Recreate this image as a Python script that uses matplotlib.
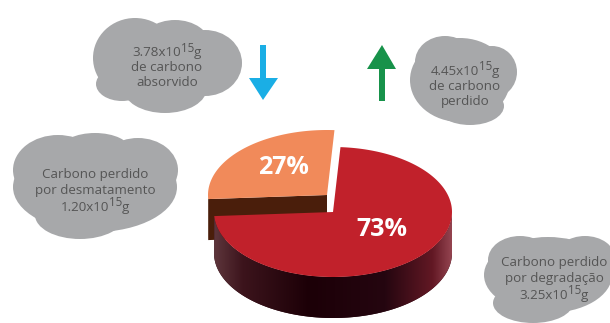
import numpy as np
import matplotlib
matplotlib.use("Agg")
import matplotlib.pyplot as plt
from matplotlib.patches import Polygon, Ellipse
from matplotlib.colors import LinearSegmentedColormap

plt.rcParams['font.family'] = ['Open Sans', 'DejaVu Sans']

# ---------------- data ----------------
shares = [27, 73]                      # percent
share_labels = ["27%", "73%"]
# each line: (base text, superscript, tail)
cloud_absorvido = [("3.78x10", "15", "g"), ("de carbono", "", ""), ("absorvido", "", "")]
cloud_perdido = [("4.45x10", "15", "g"), ("de carbono", "", ""), ("perdido", "", "")]
cloud_desmat = [("Carbono perdido", "", ""), ("por desmatamento", "", ""), ("1.20x10", "15", "g")]
cloud_degrad = [("Carbono perdido", "", ""), ("por degradação", "", ""), ("3.25x10", "15", "g")]

# ---------------- figure ----------------
W, H = 610, 323
fig = plt.figure(figsize=(W / 100, H / 100), dpi=100)
ax = fig.add_axes([0, 0, 1, 1])
ax.set_xlim(0, W)
ax.set_ylim(H, 0)
ax.axis('off')
renderer = fig.canvas.get_renderer()

CLOUD = '#a7a8aa'
TXT = '#555555'
FS, FS_SUP = 9.6, 8.4


def cloud(ells):
    for (cx, cy, rx, ry) in ells:
        ax.add_patch(Ellipse((cx, cy), 2 * rx, 2 * ry, color=CLOUD, lw=0, zorder=1))


def width_of(s, fs):
    if not s:
        return 0.0
    t = ax.text(0, 0, s, fontsize=fs)
    w = t.get_window_extent(renderer).width
    t.remove()
    return w


def cloud_text(x, ys, lines):
    for y, (base, sup, tail) in zip(ys, lines):
        wb, ws, wt = width_of(base, FS), width_of(sup, FS_SUP), width_of(tail, FS)
        x0 = x - (wb + ws + wt) / 2
        ax.text(x0, y, base, ha='left', va='baseline', fontsize=FS, color=TXT, zorder=5)
        if sup:
            ax.text(x0 + wb, y - 4.5, sup, ha='left', va='baseline', fontsize=FS_SUP, color=TXT, zorder=5)
            ax.text(x0 + wb + ws, y, tail, ha='left', va='baseline', fontsize=FS, color=TXT, zorder=5)


# cloud 1 (top-left)
cloud([(135, 58, 42, 40), (205, 63, 37, 33), (165, 88, 42, 25), (122, 84, 26, 17), (175, 45, 35, 25)])
cloud_text(167, [56, 71, 85.5], cloud_absorvido)
# cloud 2 (top-right)
cloud([(460, 80, 50, 42), (445, 62, 30, 26), (492, 72, 25, 26), (470, 106, 34, 19)])
cloud_text(465, [75, 90, 104.5], cloud_perdido)
# cloud 3 (left)
cloud([(95, 187, 82, 45), (58, 170, 45, 35), (138, 170, 40, 32), (80, 215, 45, 24), (95, 150, 35, 17)])
cloud_text(95, [178, 194, 211], cloud_desmat)
# cloud 4 (bottom-right)
cloud([(548, 275, 64, 38), (520, 260, 32, 24), (585, 258, 30, 22), (533, 303, 40, 20)])
cloud_text(554, [266, 282, 299], cloud_degrad)

# ---------------- arrows ----------------
ax.add_patch(Polygon([(260, 45), (266, 45), (266, 78), (278, 78), (263, 100), (249, 78), (260, 78)],
                     closed=True, color='#1aaee5', lw=0, zorder=3))
ax.add_patch(Polygon([(379, 101), (385, 101), (385, 69), (396, 69), (382, 45), (367, 69), (379, 69)],
                     closed=True, color='#17924a', lw=0, zorder=3))

# ---------------- 3D pie ----------------
A, B, D = 119, 65, 41
centers = [(327, 195), (333, 212)]
top_cols = ['#f18a5a', '#c1212b']
side_cols = ['#4a1e0b', None]
face_col = '#4a1e0b'
red_side_cmap = LinearSegmentedColormap.from_list(
    'redside', [(0.0, '#5e363c'), (0.12, '#3c141c'), (0.4, '#1c0007'), (0.72, '#250610'),
                (0.92, '#621824'), (1.0, '#944450')])


def pt(c, th, dz=0):
    return (c[0] + A * np.cos(np.radians(th)), c[1] - B * np.sin(np.radians(th)) + dz)


fr = np.array(shares, float) / sum(shares)
start = 90.0 - (360 * fr[0] - 90) / 2
angles = []
for f in fr:
    angles.append((start, start + 360 * f))
    start += 360 * f

label_pos = [(0.52, 0.59), (0.58, 0.39)]

for i, (a0, a1) in enumerate(angles):
    c = centers[i]
    z = 2 * i + 10
    lo, hi = max(a0, 180), min(a1, 360)
    if hi > lo:
        th = np.linspace(lo, hi, 120)
        top = [pt(c, t) for t in th]
        bot = [pt(c, t, D) for t in th[::-1]]
        poly = Polygon(top + bot, closed=True, lw=0, zorder=z,
                       color=side_cols[i] if side_cols[i] else '#2a0810')
        ax.add_patch(poly)
        if side_cols[i] is None:
            grad = np.linspace(0, 1, 256)[None, :]
            im = ax.imshow(grad, cmap=red_side_cmap, aspect='auto', zorder=z + 0.5,
                           extent=(c[0] - A, c[0] + A, c[1] + B + D + 2, c[1] - 2),
                           interpolation='bilinear')
            im.set_clip_path(poly)
    if 180 < a1 < 360:
        p = pt(c, a1)
        ax.add_patch(Polygon([c, p, (p[0], p[1] + D), (c[0], c[1] + D)], closed=True,
                             color=face_col, lw=0, zorder=z))
    th = np.linspace(a0, a1, 200)
    ax.add_patch(Polygon([c] + [pt(c, t) for t in th], closed=True, color=top_cols[i],
                         lw=0, zorder=z + 1))
    mid = np.radians((a0 + a1) / 2)
    lx = c[0] + label_pos[i][0] * A * np.cos(mid)
    ly = c[1] - label_pos[i][1] * B * np.sin(mid)
    ax.text(lx, ly, share_labels[i], ha='center', va='center', fontsize=18,
            fontweight='bold', color='white', zorder=30)

ax.set_xlim(0, W)
ax.set_ylim(H, 0)
fig.savefig('out.png', dpi=100)
